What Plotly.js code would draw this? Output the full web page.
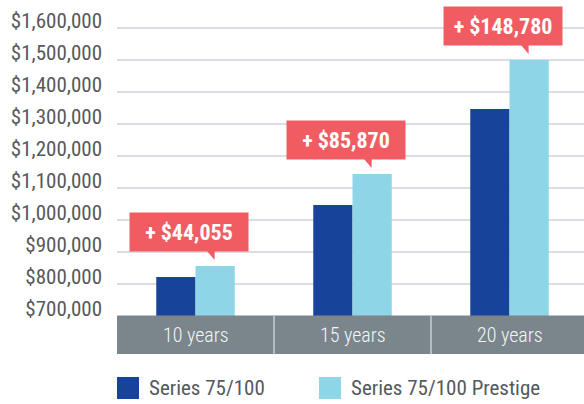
<!DOCTYPE html>
<html>
<head>
<meta charset="utf-8">
<script src="https://cdn.plot.ly/plotly-3.0.1.min.js"></script>
<style>html,body{margin:0;padding:0;background:#fff}#chart{width:584px;height:404px}</style>
</head>
<body>
<div id="chart"></div>
<script>
// ---- data ----
var categories = ['10 years', '15 years', '20 years'];
var seriesNames = ['Series 75/100', 'Series 75/100 Prestige'];
var series75 = [822000, 1047000, 1347000];
var seriesPrestige = [856000, 1144000, 1500000];
var gainLabels = ['+ $44,055', '+ $85,870', '+ $148,780'];
var yTickVals = [700000, 800000, 900000, 1000000, 1100000, 1200000, 1300000, 1400000, 1500000, 1600000];
var yTickText = ['$700,000', '$800,000', '$900,000', '$1,000,000', '$1,100,000', '$1,200,000', '$1,300,000', '$1,400,000', '$1,500,000', '$1,600,000'];

// ---- style ----
var W = 584, H = 404, ML = 117, MT = 0, PB = 316; // plot bottom pixel
var PW = W - ML, PH = PB - MT;
var FONT = '"Roboto Condensed", "Liberation Sans Narrow", "Arial Narrow", Roboto, sans-serif';
var DARK = '#17449a', LIGHT = '#8dd5e7', CORAL = '#f15c63', BAND = '#7a858c', TEXT = '#55595d';
function px(x) { return (x - ML) / PW; }
function py(y) { return (PB - y) / PH; }
function f(size, color, weight) { return {family: FONT, size: size, color: color, weight: weight || 'normal', stretch: 'condensed'}; }

var traces = [
  {type: 'bar', x: [0, 1, 2], y: series75, name: seriesNames[0], marker: {color: DARK}, hoverinfo: 'none'},
  {type: 'bar', x: [0, 1, 2], y: seriesPrestige, name: seriesNames[1], marker: {color: LIGHT}, hoverinfo: 'none'}
];

var shapes = [
  {type: 'rect', xref: 'paper', yref: 'paper', x0: 0, x1: 1.02, y0: py(354), y1: py(315.5), fillcolor: BAND, line: {width: 0}, layer: 'above'},
  {type: 'line', xref: 'x', yref: 'paper', x0: 0.5, x1: 0.5, y0: py(354), y1: py(316), line: {color: '#c9ced1', width: 1.5}, layer: 'above'},
  {type: 'line', xref: 'x', yref: 'paper', x0: 1.5, x1: 1.5, y0: py(354), y1: py(316), line: {color: '#c9ced1', width: 1.5}, layer: 'above'},
  {type: 'rect', xref: 'paper', yref: 'paper', x0: px(117), x1: px(139), y0: py(399), y1: py(377), fillcolor: DARK, line: {width: 0}},
  {type: 'rect', xref: 'paper', yref: 'paper', x0: px(319), x1: px(341), y0: py(399), y1: py(377), fillcolor: LIGHT, line: {width: 0}}
];

var annotations = [];
for (var i = 0; i < categories.length; i++) {
  annotations.push({xref: 'x', yref: 'paper', x: i, y: py(335), text: categories[i], showarrow: false,
    xanchor: 'center', yanchor: 'middle', font: f(20, '#f4f5f6', 300)});
  annotations.push({xref: 'x', yref: 'y', x: i + 0.125, y: seriesPrestige[i], text: '<b>' + gainLabels[i] + '</b>',
    showarrow: false, xanchor: 'center', yanchor: 'middle', xshift: -26, yshift: 34,
    width: 118, height: 38, borderpad: 0, bgcolor: CORAL, font: f(22, '#ffffff', 'bold')});
  shapes.push({type: 'path', xref: 'x', yref: 'y', xsizemode: 'pixel', ysizemode: 'pixel',
    xanchor: i + 0.125, yanchor: seriesPrestige[i], path: 'M-9,16 L-0.5,16 L-0.5,6 Z',
    fillcolor: CORAL, line: {width: 0}, layer: 'above'});
}
annotations.push({xref: 'paper', yref: 'paper', x: px(147), y: py(388), text: seriesNames[0], showarrow: false,
  xanchor: 'left', yanchor: 'middle', font: f(21, TEXT)});
annotations.push({xref: 'paper', yref: 'paper', x: px(349), y: py(388), text: seriesNames[1], showarrow: false,
  xanchor: 'left', yanchor: 'middle', font: f(21, TEXT)});

var layout = {
  width: W, height: H,
  margin: {l: ML, r: 0, t: MT, b: H - PB, pad: 0},
  paper_bgcolor: '#ffffff', plot_bgcolor: '#ffffff',
  showlegend: false,
  barmode: 'group', bargap: 0.5, bargroupgap: 0,
  xaxis: {type: 'linear', range: [-0.5, -0.5 + PW / 157], showgrid: false, zeroline: false,
    showticklabels: false, ticks: '', fixedrange: true},
  yaxis: {range: [700000, 700000 + PH / 32 * 100000], tickvals: yTickVals, ticktext: yTickText,
    showgrid: true, gridcolor: '#dcdde2', gridwidth: 1.2, zeroline: false, ticks: '',
    ticklabelstandoff: 14, ticklabelshift: -7, tickfont: f(21, TEXT), fixedrange: true},
  shapes: shapes,
  annotations: annotations
};

Plotly.newPlot('chart', traces, layout, {displayModeBar: false, staticPlot: true});
</script>
</body>
</html>
